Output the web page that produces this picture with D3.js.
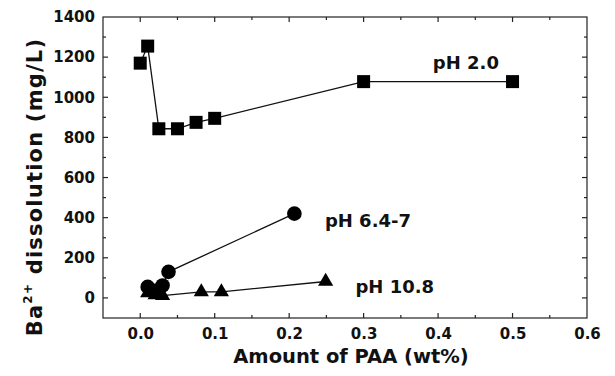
<!DOCTYPE html>
<html>
<head>
<meta charset="utf-8">
<script src="https://cdn.jsdelivr.net/npm/d3@7"></script>
<style>
  body { margin: 0; background: #fff; }
  svg { font-family: "DejaVu Sans", Arial, sans-serif; font-weight: bold; }
</style>
</head>
<body>
<div id="chart"></div>
<script>
// values
var ph2X = [0.0, 0.01, 0.025, 0.05, 0.075, 0.1, 0.3, 0.5],
    ph2Y = [1170, 1255, 843, 843, 875, 895, 1078, 1078],
    ph7X = [0.01, 0.02, 0.03, 0.038, 0.207],
    ph7Y = [55, 35, 62, 130, 420],
    ph10X = [0.01, 0.02, 0.03, 0.082, 0.109, 0.249],
    ph10Y = [25, 15, 12, 30, 30, 82],
    xTicks = [0.0, 0.1, 0.2, 0.3, 0.4, 0.5, 0.6],
    yTicks = [0, 200, 400, 600, 800, 1000, 1200, 1400],
    seriesLabels = ['pH 2.0', 'pH 6.4-7', 'pH 10.8'];

var
  margin = { top: 17, right: 28, bottom: 58, left: 103 },
  W = 615, H = 376,
  width = W - margin.left - margin.right,
  height = H - margin.top - margin.bottom;

var svg = d3.select('#chart').append('svg')
    .attr('width', W)
    .attr('height', H),
  g = svg.append('g').attr('transform', 'translate(' + margin.left + ',' + margin.top + ')'),
  x = d3.scaleLinear().domain([-0.05, 0.6]).range([0, width]),
  y = d3.scaleLinear().domain([-100, 1400]).range([height, 0]);

function zip(xs, ys) { return xs.map(function(v, i) { return { x: v, y: ys[i] }; }); }

// frame
g.append('rect').attr('width', width).attr('height', height)
  .attr('fill', 'none').attr('stroke', '#222').attr('stroke-width', 1.2);

var xMinor = d3.range(-0.05, 0.6001, 0.05).filter(function(v) { return v > -0.04 && v < 0.59; }),
    yMinor = d3.range(-100, 1401, 100).filter(function(v) { return v > -100 && v < 1400; });

// inward ticks on all four sides
xMinor.forEach(function(v) {
  var major = Math.abs(Math.round(v * 10) - v * 10) < 1e-6, len = major ? 5 : 3;
  g.append('line').attr('x1', x(v)).attr('x2', x(v)).attr('y1', height).attr('y2', height - len)
    .attr('stroke', '#222').attr('stroke-width', 1.2);
  g.append('line').attr('x1', x(v)).attr('x2', x(v)).attr('y1', 0).attr('y2', len)
    .attr('stroke', '#222').attr('stroke-width', 1.2);
});
yMinor.forEach(function(v) {
  var len = v % 200 === 0 ? 5 : 3;
  g.append('line').attr('x1', 0).attr('x2', len).attr('y1', y(v)).attr('y2', y(v))
    .attr('stroke', '#222').attr('stroke-width', 1.2);
  g.append('line').attr('x1', width).attr('x2', width - len).attr('y1', y(v)).attr('y2', y(v))
    .attr('stroke', '#222').attr('stroke-width', 1.2);
});

// tick labels via axes (lines hidden)
var xAxis = g.append('g').attr('transform', 'translate(0,' + height + ')')
  .call(d3.axisBottom(x).tickValues(xTicks).tickFormat(d3.format('.1f')).tickSize(0).tickPadding(10));
var yAxis = g.append('g')
  .call(d3.axisLeft(y).tickValues(yTicks).tickFormat(d3.format('d')).tickSize(0).tickPadding(8));
[xAxis, yAxis].forEach(function(a) {
  a.select('.domain').remove();
  a.selectAll('text').attr('font-size', 15).attr('font-weight', 'bold')
    .attr('font-family', '"DejaVu Sans", Arial, sans-serif').attr('fill', '#111');
});

// axis titles
svg.append('text').attr('x', 351).attr('y', 363)
  .attr('text-anchor', 'middle').attr('font-size', 19.5).attr('fill', '#111')
  .text('Amount of PAA (wt%)');
var yt = svg.append('text').attr('transform', 'translate(42,187) rotate(-90)')
  .attr('text-anchor', 'middle').attr('font-size', 21).attr('letter-spacing', 1.2).attr('fill', '#111');
yt.append('tspan').text('Ba');
yt.append('tspan').attr('font-size', 12).attr('dy', -10).text('2+');
yt.append('tspan').attr('dy', 10).text(' dissolution (mg/L)');

var line = d3.line().x(function(d) { return x(d.x); }).y(function(d) { return y(d.y); });
var series = [zip(ph2X, ph2Y), zip(ph7X, ph7Y), zip(ph10X, ph10Y)];

series.forEach(function(s) {
  g.append('path').datum(s).attr('d', line)
    .attr('fill', 'none').attr('stroke', '#111').attr('stroke-width', 1.3);
});

// squares
g.selectAll('.sq').data(series[0]).enter().append('rect')
  .attr('x', function(d) { return x(d.x) - 6.5; })
  .attr('y', function(d) { return y(d.y) - 6.5; })
  .attr('width', 13).attr('height', 13).attr('fill', '#000');
// circles
g.selectAll('.ci').data(series[1]).enter().append('circle')
  .attr('cx', function(d) { return x(d.x); })
  .attr('cy', function(d) { return y(d.y); })
  .attr('r', 7.3).attr('fill', '#000');
// triangles
var tri = d3.symbol().type(d3.symbolTriangle).size(100);
g.selectAll('.tr').data(series[2]).enter().append('path')
  .attr('d', tri)
  .attr('transform', function(d) { return 'translate(' + x(d.x) + ',' + y(d.y) + ')'; })
  .attr('fill', '#000');

// series labels
var labelPos = [[0.393, 1140], [0.248, 354], [0.289, 25]];
seriesLabels.forEach(function(t, i) {
  g.append('text').attr('x', x(labelPos[i][0])).attr('y', y(labelPos[i][1]))
    .attr('font-size', 18).attr('fill', '#111').text(t);
});
</script>
</body>
</html>
